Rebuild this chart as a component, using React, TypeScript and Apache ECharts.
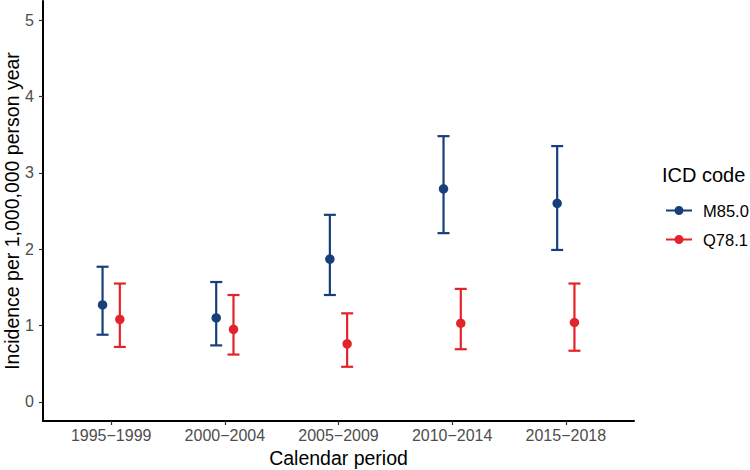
import React, { useEffect, useRef } from "react";
import * as echarts from "echarts";

const categories = ["1995−1999", "2000−2004", "2005−2009", "2010−2014", "2015−2018"];
const yTicks = [0, 1, 2, 3, 4, 5];

const m850Est = [1.27, 1.10, 1.87, 2.79, 2.60];
const m850Lo = [0.88, 0.74, 1.40, 2.21, 1.99];
const m850Hi = [1.77, 1.57, 2.45, 3.48, 3.35];

const q781Est = [1.08, 0.95, 0.76, 1.03, 1.04];
const q781Lo = [0.72, 0.62, 0.46, 0.69, 0.67];
const q781Hi = [1.55, 1.40, 1.16, 1.48, 1.55];

const BLUE = "#173F7B";
const RED = "#E3232A";
const DODGE = 0.076;
const FONT = "Liberation Sans, Arial, sans-serif";

function errorBars(name: string, color: string, off: number, lo: number[], hi: number[]) {
  return {
    type: "custom",
    name,
    silent: true,
    z: 2,
    data: lo.map((l, i) => [i + 1 + off, l, hi[i]]),
    encode: { x: 0, y: [1, 2] },
    renderItem: (params: any, api: any) => {
      const x = api.value(0);
      const p1 = api.coord([x, api.value(1)]);
      const p2 = api.coord([x, api.value(2)]);
      const hw = 6;
      const style = { stroke: color, lineWidth: 2.2 };
      return {
        type: "group",
        children: [
          { type: "line", shape: { x1: p1[0], y1: p1[1], x2: p2[0], y2: p2[1] }, style },
          { type: "line", shape: { x1: p1[0] - hw, y1: p1[1], x2: p1[0] + hw, y2: p1[1] }, style },
          { type: "line", shape: { x1: p2[0] - hw, y1: p2[1], x2: p2[0] + hw, y2: p2[1] }, style },
        ],
      };
    },
  };
}

const legendIcon =
  "path://M0,4.1 L26,4.1 L26,5.9 L0,5.9 Z M8.5,5 A4.5,4.5 0 1 1 17.5,5 A4.5,4.5 0 1 1 8.5,5 Z";

export default function App() {
  const ref = useRef<HTMLDivElement>(null);
  useEffect(() => {
    const chart = echarts.init(ref.current!, null, { renderer: "svg" });
    chart.setOption({
      animation: false,
      backgroundColor: "#ffffff",
      textStyle: { fontFamily: FONT },
      title: {
        text: "ICD code",
        left: 662,
        top: 165,
        textStyle: { fontFamily: FONT, fontSize: 20, fontWeight: "normal", color: "#000" },
        padding: 0,
      },
      legend: {
        orient: "vertical",
        left: 666,
        top: 202,
        itemWidth: 26,
        itemHeight: 10,
        itemGap: 12,
        padding: 0,
        textStyle: { fontFamily: FONT, fontSize: 16.5, color: "#000", padding: [0, 0, 0, 6] },
        data: [
          { name: "M85.0", icon: legendIcon, itemStyle: { color: BLUE } },
          { name: "Q78.1", icon: legendIcon, itemStyle: { color: RED } },
        ],
      },
      grid: { left: 43, right: 116, top: 1, bottom: 49, containLabel: false, outerBoundsMode: "none" },
      xAxis: {
        type: "value",
        min: 0.4,
        max: 5.6,
        name: "Calendar period",
        nameLocation: "middle",
        nameGap: 27,
        nameMoveOverlap: false,
        nameTextStyle: { fontFamily: FONT, fontSize: 19.5, color: "#000" },
        axisLine: { show: true, onZero: false, lineStyle: { color: "#000", width: 2 } },
        axisTick: {
          show: true,
          customValues: [1, 2, 3, 4, 5],
          length: 4,
          lineStyle: { color: "#333", width: 1.2 },
        },
        axisLabel: {
          customValues: [1, 2, 3, 4, 5],
          formatter: (v: number) => categories[Math.round(v) - 1] ?? "",
          fontFamily: FONT,
          fontSize: 16,
          color: "#4D4D4D",
          margin: 6,
        },
        splitLine: { show: false },
      },
      yAxis: {
        type: "value",
        min: -0.25,
        max: 5.25,
        name: "Incidence per 1,000,000 person year",
        nameLocation: "middle",
        nameGap: 21,
        nameMoveOverlap: false,
        nameTextStyle: { fontFamily: FONT, fontSize: 19.5, color: "#000" },
        axisLine: { show: true, onZero: false, lineStyle: { color: "#000", width: 2 } },
        axisTick: {
          show: true,
          customValues: yTicks,
          length: 4,
          lineStyle: { color: "#333", width: 1.2 },
        },
        axisLabel: {
          customValues: yTicks,
          fontFamily: FONT,
          fontSize: 16,
          color: "#4D4D4D",
          margin: 9,
        },
        splitLine: { show: false },
      },
      series: [
        errorBars("M85.0", BLUE, -DODGE, m850Lo, m850Hi),
        errorBars("Q78.1", RED, DODGE, q781Lo, q781Hi),
        {
          type: "scatter",
          name: "M85.0",
          symbol: "circle",
          symbolSize: 9.5,
          z: 3,
          itemStyle: { color: BLUE, opacity: 1 },
          data: m850Est.map((v, i) => [i + 1 - DODGE, v]),
        },
        {
          type: "scatter",
          name: "Q78.1",
          symbol: "circle",
          symbolSize: 9.5,
          z: 3,
          itemStyle: { color: RED, opacity: 1 },
          data: q781Est.map((v, i) => [i + 1 + DODGE, v]),
        },
      ],
    });
    return () => chart.dispose();
  }, []);
  return (
    <div
      ref={ref}
      style={{ position: "absolute", left: 0, top: 0, width: 750, height: 470 }}
    />
  );
}
